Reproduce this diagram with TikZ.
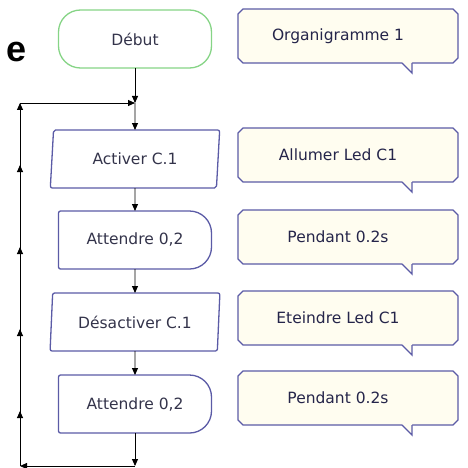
\documentclass[tikz,border=0pt]{standalone}
\usepackage{fontspec}
\setmainfont{DejaVu Sans}
\newfontfamily\titlefont{Liberation Sans}
\usetikzlibrary{positioning, shapes.geometric, shapes.misc, arrows.meta, decorations.markings}

\definecolor{boxblue}{HTML}{5B5BA6}
\definecolor{startgreen}{HTML}{86D486}
\definecolor{notefill}{HTML}{FFFDF0}
\definecolor{boxtext}{HTML}{33334A}
\definecolor{notetext}{HTML}{25254A}

\tikzset{
    box/.style={minimum width=153pt, minimum height=58pt, inner sep=0pt, outer sep=0pt,
        text=boxtext, font=\fontsize{15.5}{18}\selectfont},
    start/.style={box, draw=startgreen, line width=1.3pt, rounded corners=22pt},
    io/.style={box, draw=boxblue, line width=1.3pt, trapezium, trapezium left angle=82,
        trapezium right angle=98, trapezium stretches=true, minimum width=170pt, rounded corners=2pt},
    delay/.style={box},
    note/.style={chamfered rectangle, chamfered rectangle xsep=2.5pt, chamfered rectangle ysep=2.5pt,
        draw=boxblue, fill=notefill, line width=1.3pt, minimum width=220pt, minimum height=54pt,
        inner sep=0pt, outer sep=0pt, text=notetext, font=\fontsize{15.5}{18}\selectfont,
        execute at end node={\hspace{20pt}}},
    flow/.style={-{Triangle[length=7pt,width=6pt]}, line width=0.9pt},
}

\begin{document}
\begin{tikzpicture}[x=1pt, y=1pt, node distance=24pt]
    \useasboundingbox (0,0) rectangle (468,-468);

    \node[font=\titlefont\bfseries\fontsize{36}{36}\selectfont, anchor=base] (lettre) at (17,-62) {e};

    % organigramme
    \node[start] (debut) at (135,-39) {Début};
    \node[io, below=62pt of debut] (act) {Activer C.1};
    \node[delay, below=23pt of act] (att1) {Attendre 0,2};
    \node[io, below=of att1] (des) {Désactiver C.1};
    \node[delay, below=of des] (att2) {Attendre 0,2};

    \foreach \n in {att1, att2} {
        \draw[boxblue, line width=1.3pt]
            ([xshift=2pt]\n.north west) -- ([xshift=-22pt]\n.north east)
            arc[start angle=90, end angle=0, radius=22pt]
            -- ([yshift=22pt]\n.south east)
            arc[start angle=0, end angle=-90, radius=22pt]
            -- ([xshift=2pt]\n.south west)
            arc[start angle=-90, end angle=-180, radius=2pt]
            -- ([yshift=-2pt]\n.north west)
            arc[start angle=180, end angle=90, radius=2pt];
    }

    % commentaires
    \node[note] (com1) at (348,-36) {Organigramme 1};
    \node[note, below=65pt of com1] (com2) {Allumer Led C1};
    \node[note, below=28pt of com2] (com3) {Pendant 0.2s};
    \node[note, below=27pt of com3] (com4) {Eteindre Led C1};
    \node[note, below=26pt of com4] (com5) {Pendant 0.2s};

    \foreach \n in {com1, com2, com3, com4, com5} {
        \fill[notefill] ([xshift=54pt, yshift=0.8pt]\n.south) -- ([xshift=64pt, yshift=-10pt]\n.south)
            -- ([xshift=64pt, yshift=0.8pt]\n.south) -- cycle;
        \draw[boxblue, line width=1.3pt] ([xshift=54pt]\n.south) -- ([xshift=64pt, yshift=-10pt]\n.south)
            -- ([xshift=64pt]\n.south);
    }

    % liaisons
    \coordinate[below=35pt of debut] (join);
    \coordinate[below=33pt of att2] (fin);
    \coordinate[left=115pt of fin] (bl);
    \coordinate[left=115pt of join] (tl);

    \draw[flow] (debut) -- (join);
    \draw[flow] (join) -- (act);
    \draw[flow] (act) -- (att1);
    \draw[flow] (att1) -- (des);
    \draw[flow] (des) -- (att2);
    \draw[flow] (att2) -- (fin);
    \draw[flow] (fin) -- (bl);
    \draw[flow, postaction={decorate}, decoration={markings,
        mark=between positions 55pt and 310pt step 82pt with {\arrow{Triangle[length=7pt,width=6pt]}}}]
        (bl) -- (tl);
    \draw[flow] (tl) -- (join);
\end{tikzpicture}
\end{document}
